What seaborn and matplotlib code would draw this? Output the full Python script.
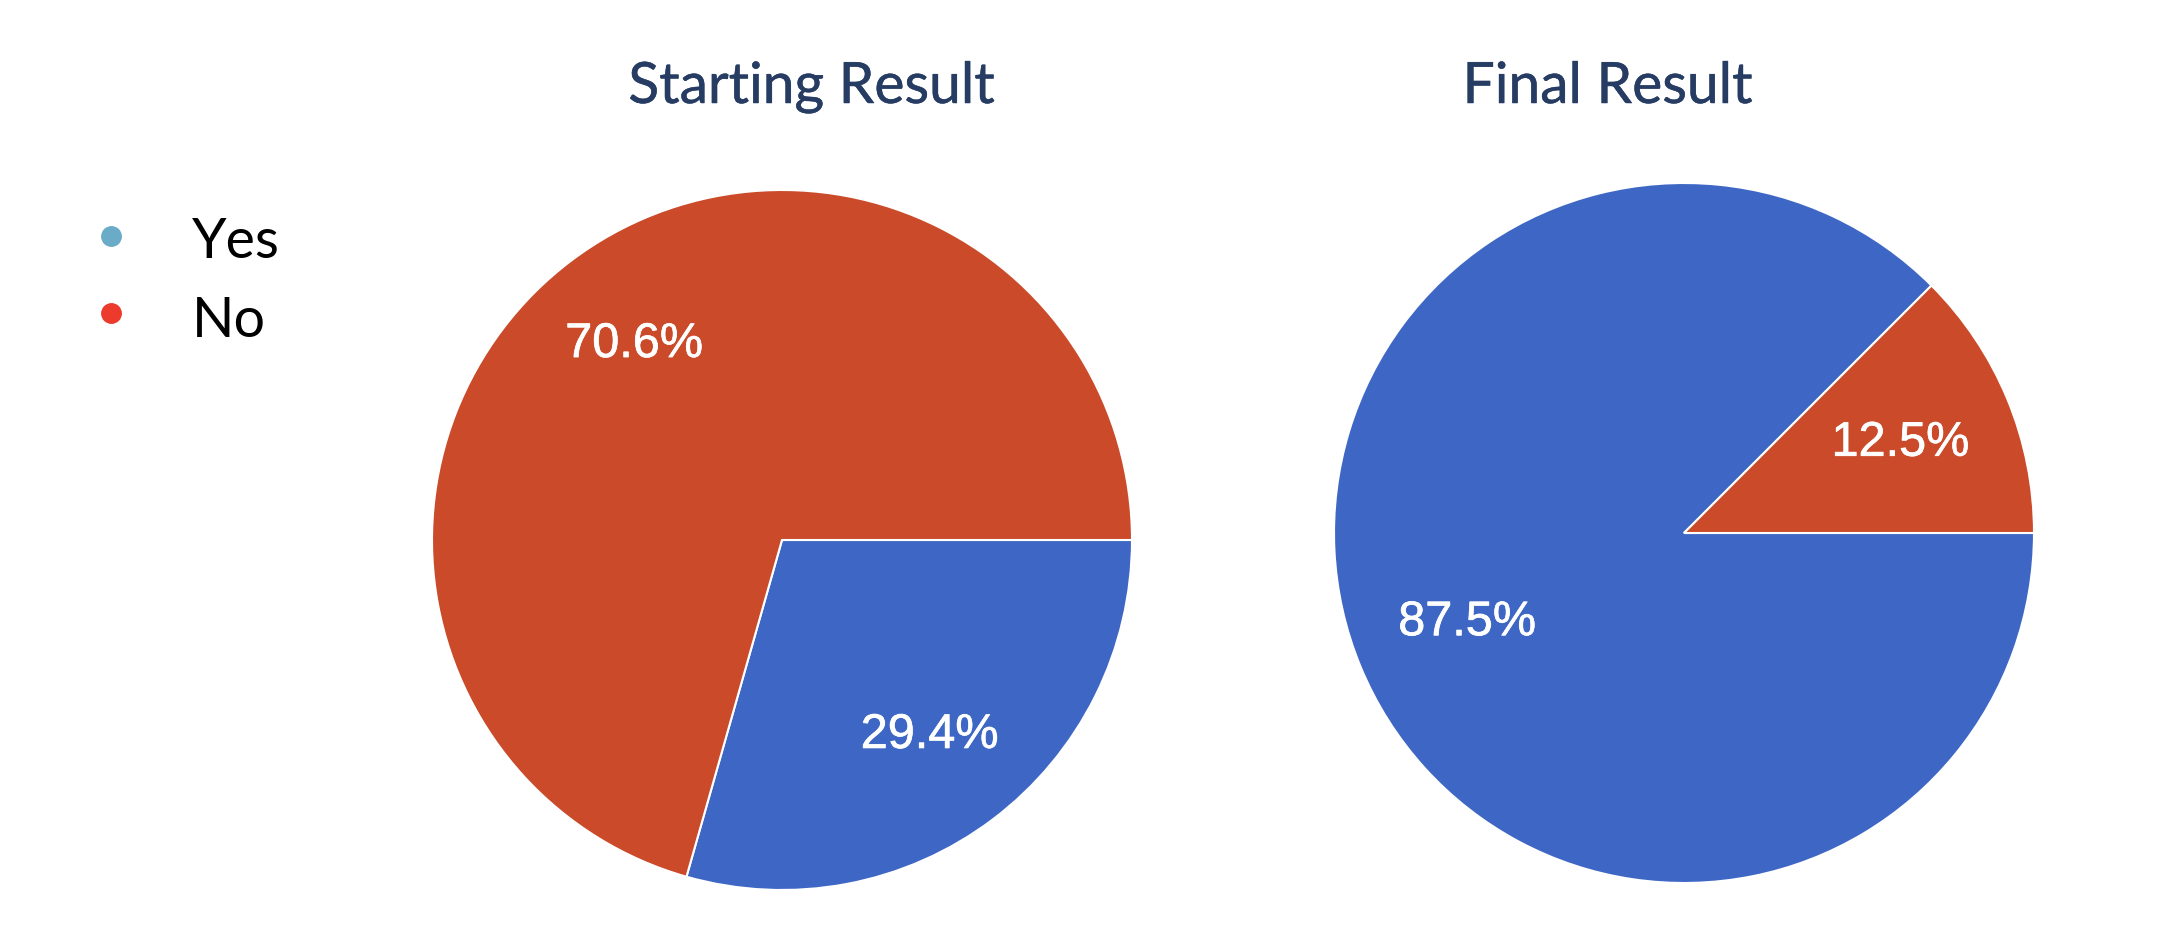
import matplotlib
matplotlib.use("Agg")
import matplotlib.pyplot as plt
import matplotlib.patheffects as pe
import seaborn as sns
from matplotlib.lines import Line2D

# data
answers = ["Yes", "No"]
starting = [29.4, 70.6]
final = [87.5, 12.5]
titles = ["Starting Result", "Final Result"]

pie_colors = ["#3E67C5", "#CA4A29"]
legend_colors = ["#6AABC8", "#EC3A2C"]

sns.set_theme(style="white")
plt.rcParams['font.family'] = ['Lato', 'DejaVu Sans']

W, H = 2166, 944
fig = plt.figure(figsize=(W / 100, H / 100), dpi=100)

# axes boxes in pixels: left, bottom, size
boxes = [(432, 54, 700), (1334, 61, 700)]
title_x = [812, 1608]

for vals, box, pctd, tx, title in zip([starting, final], boxes, [0.70, 0.67], title_x, titles):
    l, b, s = box
    ax = fig.add_axes([l / W, b / H, s / W, s / H])
    _, _, pcts = ax.pie(vals, colors=pie_colors, startangle=0, counterclock=False,
                        autopct='%1.1f%%', pctdistance=pctd,
                        wedgeprops=dict(edgecolor="white", linewidth=1.5),
                        textprops=dict(color="white", fontsize=35, family="Liberation Sans"))
    for t in pcts:
        t.set_path_effects([pe.withStroke(linewidth=0.5, foreground="white")])
    ax.set_xlim(-1, 1)
    ax.set_ylim(-1, 1)
    ax.set_aspect("equal")
    ax.axis("off")
    fig.text(tx / W, 1 - 103 / H, title, ha="center", va="baseline",
             fontsize=41, color="#263C63",
             path_effects=[pe.withStroke(linewidth=0.35, foreground="#263C63")])

# legend
for name, col, dy, base in zip(answers, legend_colors, [236, 313], [258, 337]):
    fig.add_artist(Line2D([111 / W], [1 - dy / H], marker="o", markersize=14,
                          color=col, linestyle="none", transform=fig.transFigure))
    fig.text(192 / W, 1 - base / H, name, ha="left", va="baseline",
             fontsize=40, color="black")

fig.savefig("out.png", dpi=100, facecolor="white")
